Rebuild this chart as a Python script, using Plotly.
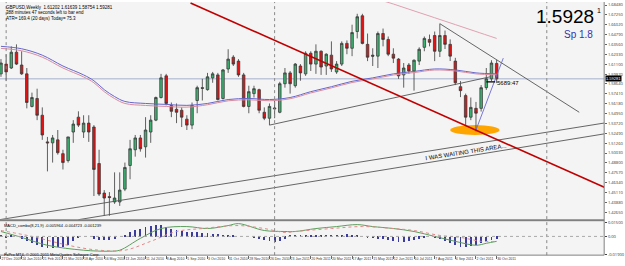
import pandas as pd
import plotly.graph_objects as go

# ---------------- data ----------------
start_week = "2009-12-27"
n_weeks = 97
dates = pd.date_range(start_week, periods=n_weeks, freq="7D")

opens = [1.5990,1.6112,1.6063,1.6260,1.6100,1.5990,1.5584,1.5683,1.5474,1.5142,
         1.5130,1.5167,1.4995,1.4909,1.5265,1.5450,1.5265,1.5376,1.5327,1.4872,
         1.4504,1.4460,1.4393,1.4393,1.4553,1.4848,1.5044,1.5191,1.5081,1.5265,
         1.5413,1.5695,1.5965,1.5597,1.5548,1.5536,1.5425,1.5351,1.5658,1.5818,
         1.5793,1.5940,1.5977,1.5683,1.6051,1.6198,1.6149,1.5977,1.5584,1.5744,
         1.5793,1.5511,1.5437,1.5565,1.5511,1.5867,1.6002,1.5842,1.6088,1.5990,
         1.6247,1.6112,1.6272,1.6088,1.6223,1.6014,1.6112,1.6370,1.6309,1.6518,
         1.6714,1.6358,1.6223,1.6211,1.6493,1.6419,1.6235,1.6174,1.5977,1.6100,
         1.6026,1.6149,1.6321,1.6419,1.6468,1.6272,1.6468,1.6358,1.6149,1.5830,
         1.5719,1.5450,1.5560,1.5560,1.5818,1.5928,1.6120]
highs = [1.6174,1.6235,1.6333,1.6358,1.6272,1.6063,1.5756,1.5805,1.5572,1.5204,
         1.5228,1.5290,1.5044,1.5204,1.5413,1.5523,1.5474,1.5474,1.5351,1.5044,
         1.4541,1.4516,1.4762,1.4762,1.4884,1.5167,1.5228,1.5228,1.5450,1.5474,
         1.5707,1.5990,1.5990,1.5633,1.5621,1.5572,1.5474,1.5633,1.5842,1.5928,
         1.6002,1.6014,1.6002,1.6051,1.6297,1.6223,1.6174,1.6002,1.5842,1.5842,
         1.5805,1.5572,1.5621,1.5658,1.5891,1.6063,1.6026,1.6125,1.6112,1.6272,
         1.6272,1.6358,1.6284,1.6247,1.6395,1.6149,1.6395,1.6407,1.6603,1.6739,
         1.6739,1.6493,1.6309,1.6518,1.6555,1.6456,1.6309,1.6186,1.6125,1.6125,
         1.6170,1.6321,1.6456,1.6480,1.6518,1.6616,1.6530,1.6420,1.6190,1.5900,
         1.5744,1.5695,1.5640,1.5850,1.6063,1.6160,1.6164]
lows = [1.5953,1.5904,1.6051,1.6100,1.5977,1.5560,1.5572,1.5413,1.5167,1.4774,
        1.4884,1.4983,1.4798,1.4884,1.5130,1.5327,1.5191,1.5142,1.4467,1.4467,
        1.4221,1.4221,1.4369,1.4344,1.4528,1.4676,1.4958,1.5020,1.4946,1.5130,
        1.5400,1.5683,1.5597,1.5450,1.5376,1.5327,1.5290,1.5300,1.5499,1.5658,
        1.5781,1.5879,1.5658,1.5670,1.6002,1.6088,1.5953,1.5572,1.5499,1.5695,
        1.5499,1.5413,1.5351,1.5437,1.5499,1.5818,1.5744,1.5818,1.5904,1.5965,
        1.6026,1.5990,1.5977,1.5977,1.6014,1.5990,1.6088,1.6235,1.6211,1.6432,
        1.6358,1.6149,1.6088,1.6063,1.6333,1.6211,1.6125,1.5928,1.5818,1.5990,
        1.5781,1.6100,1.6272,1.6333,1.6149,1.6200,1.6300,1.6150,1.5850,1.5700,
        1.5351,1.5413,1.5272,1.5520,1.5790,1.5900,1.5875]
closes = [1.6125,1.6014,1.6260,1.6112,1.5990,1.5633,1.5695,1.5474,1.5228,1.5130,
          1.5191,1.5007,1.4884,1.5204,1.5364,1.5351,1.5376,1.5265,1.4798,1.4491,
          1.4442,1.4448,1.4442,1.4541,1.4823,1.5056,1.5191,1.5056,1.5290,1.5413,
          1.5695,1.5940,1.5621,1.5523,1.5511,1.5450,1.5351,1.5597,1.5818,1.5810,
          1.5953,1.5990,1.5670,1.6039,1.6174,1.6112,1.5977,1.5584,1.5768,1.5805,
          1.5536,1.5437,1.5584,1.5555,1.5867,1.6002,1.5867,1.6112,1.6002,1.6247,
          1.6112,1.6272,1.6075,1.6235,1.6051,1.6112,1.6370,1.6309,1.6505,1.6702,
          1.6370,1.6198,1.6211,1.6493,1.6419,1.6235,1.6186,1.5965,1.6063,1.6026,
          1.6160,1.6297,1.6432,1.6383,1.6272,1.6468,1.6358,1.6211,1.5879,1.5781,
          1.5450,1.5572,1.5500,1.5818,1.5928,1.6125,1.5928]

# moving averages (week index, price)
ma_fast_idx = [0,4,8,12,16,18,20,22,24,28,32,36,40,44,48,52,56,60,64,68,72,76,80,84,88,92,96]
ma_fast_val = [1.6333,1.6303,1.6223,1.6088,1.5977,1.5904,1.5793,1.5707,1.5646,1.5621,1.5609,
               1.5597,1.5621,1.5670,1.5683,1.5670,1.5695,1.5768,1.5830,1.5897,1.5940,1.5990,
               1.6020,1.6051,1.6039,1.6002,1.5990]
ma_slow_val = [1.6308,1.6278,1.6198,1.6063,1.5952,1.5879,1.5768,1.5682,1.5621,1.5596,1.5584,
               1.5575,1.5605,1.5654,1.5667,1.5655,1.5680,1.5752,1.5815,1.5882,1.5926,1.5976,
               1.6006,1.6038,1.6026,1.5990,1.5978]
ma_long_idx = [70,72,76,80,84,88,92,96]
ma_long_val = [1.7040,1.6947,1.6861,1.6775,1.6690,1.6604,1.6518,1.6432]

# MACD panel (week index, value)
macd_idx = [0,4,9,16,21,23,27,31,36,40,44,46,51,55,57,61,65,69,72,76,80,84,88,92,94,96]
macd_val = [0.005,-0.001,-0.009,-0.014,-0.015,-0.014,-0.002,0.008,0.010,0.008,0.011,0.013,
            0.006,0.005,0.005,0.008,0.010,0.012,0.010,0.008,0.005,0.000,-0.005,-0.009,-0.007,-0.005]
sig_idx = [0,6,13,19,24,29,34,39,46,51,55,57,64,70,76,80,85,89,93,96]
sig_val = [0.006,0.000,-0.009,-0.014,-0.014,-0.005,0.005,0.008,0.011,0.008,0.004,0.005,
           0.008,0.010,0.008,0.006,0.001,-0.001,-0.005,-0.005]
hist_val = [0.001,-0.001,0.001,0.000,-0.002,-0.004,-0.006,-0.008,-0.010,-0.011,
            -0.011,-0.010,-0.010,-0.008,-0.004,-0.001,0.000,0.000,-0.002,-0.003,
            -0.003,-0.003,-0.002,0.000,0.002,0.005,0.007,0.008,0.010,0.011,
            0.012,0.012,0.010,0.008,0.007,0.006,0.005,0.005,0.005,0.004,
            0.004,0.003,0.003,0.002,0.002,0.001,0.000,0.000,0.000,-0.001,
            -0.002,-0.003,-0.004,-0.005,-0.004,-0.002,0.001,0.002,0.002,0.002,
            0.002,0.002,0.002,0.001,0.001,0.002,0.002,0.003,0.002,0.001,
            0.000,-0.001,-0.001,-0.002,-0.002,-0.003,-0.004,-0.005,-0.005,-0.004,
            -0.003,-0.002,-0.001,0.000,-0.001,-0.002,-0.004,-0.006,-0.008,-0.010,
            -0.010,-0.009,-0.008,-0.006,-0.004,-0.003,-0.002]

# drawn objects (date, price)
red_trend = (["2010-09-10", "2012-03-24"], [1.6874, 1.4575])
chan_upper = (["2009-12-25", "2012-03-24"], [1.4172, 1.5377])
chan_lower = (["2010-04-11", "2012-03-24"], [1.4172, 1.5242])
trend_b = (["2010-12-26", "2011-10-21"], [1.5351, 1.5953])
trend_c = (["2011-08-14", "2012-02-19"], [1.6616, 1.5511])
trend_d = (["2011-10-02", "2011-11-08"], [1.5290, 1.6186])
tick_mark = (["2011-10-16", "2011-10-28"], [1.5891, 1.5891])
ellipse_box = (["2011-08-28", "2011-11-03"], [1.5228, 1.5351])
separators = ["2010-01-03", "2011-01-02", "2012-01-06"]
bid_price = 1.5928

price_ticks = [1.68480,1.67250,1.66020,1.64790,1.63560,1.62330,1.61100,1.59870,1.58640,
               1.57410,1.56180,1.54950,1.53720,1.52490,1.51260,1.50030,1.48800,1.47570,
               1.46340,1.45110,1.43880,1.42650]
date_ticks = pd.date_range(start_week, periods=25, freq="28D")
date_labels = ["27 Dec 2009","24 Jan 2010","21 Feb 2010","21 Mar 2010","18 Apr 2010",
               "16 May 2010","13 Jun 2010","11 Jul 2010","8 Aug 2010","5 Sep 2010",
               "3 Oct 2010","31 Oct 2010","28 Nov 2010","26 Dec 2010","23 Jan 2011",
               "20 Feb 2011","20 Mar 2011","17 Apr 2011","15 May 2011","12 Jun 2011",
               "10 Jul 2011","7 Aug 2011","4 Sep 2011","2 Oct 2011","30 Oct 2011"]

# ---------------- figure ----------------
W, H = 625, 266
x_range = ["2009-12-25 16:00", "2012-03-23 19:00"]
main_dom = [1 - 221 / H, 1]
macd_dom = [1 - 257 / H, 1 - 223 / H]
xdom = [0, 612 / W]

fig = go.Figure()

fig.add_trace(go.Scatter(x=dates[ma_long_idx], y=ma_long_val, mode="lines",
                         line=dict(color="#E0A0B0", width=1, shape="spline"),
                         hoverinfo="skip", xaxis="x", yaxis="y"))
fig.add_trace(go.Scatter(x=dates[ma_fast_idx], y=ma_fast_val, mode="lines",
                         line=dict(color="#6666CC", width=1, shape="spline"),
                         hoverinfo="skip", xaxis="x", yaxis="y"))
fig.add_trace(go.Scatter(x=dates[ma_fast_idx], y=ma_slow_val, mode="lines",
                         line=dict(color="#D98CA0", width=1, shape="spline"),
                         hoverinfo="skip", xaxis="x", yaxis="y"))

fig.add_trace(go.Candlestick(
    x=dates, open=opens, high=highs, low=lows, close=closes,
    increasing=dict(fillcolor="#3CB371", line=dict(color="#3A3A3A", width=0.8)),
    decreasing=dict(fillcolor="#E01414", line=dict(color="#3A3A3A", width=0.8)),
    whiskerwidth=0, xaxis="x", yaxis="y", hoverinfo="skip"))

def seg(pair, color, width, dash="solid"):
    fig.add_trace(go.Scatter(x=pair[0], y=pair[1], mode="lines",
                             line=dict(color=color, width=width, dash=dash),
                             hoverinfo="skip", xaxis="x", yaxis="y"))

seg(chan_upper, "#555555", 0.9)
seg(chan_lower, "#555555", 0.9)
seg(trend_b, "#555555", 0.9)
seg(trend_c, "#555555", 0.9)
seg(trend_d, "#6A6AD0", 0.9)
seg(red_trend, "#C00000", 1.6)
seg(tick_mark, "#000000", 1.2)

# MACD panel
fig.add_trace(go.Bar(x=dates, y=hist_val, marker=dict(color="#3B3BA0", line=dict(width=0)),
                     width=1.2 * 86400000, xaxis="x2", yaxis="y2", hoverinfo="skip"))
fig.add_trace(go.Scatter(x=dates[macd_idx], y=macd_val, mode="lines",
                         line=dict(color="#5E9E5E", width=1, shape="spline"),
                         xaxis="x2", yaxis="y2", hoverinfo="skip"))
fig.add_trace(go.Scatter(x=dates[sig_idx], y=sig_val, mode="lines",
                         line=dict(color="#E08888", width=1, dash="dot", shape="spline"),
                         xaxis="x2", yaxis="y2", hoverinfo="skip"))

shapes = []
shapes.append(dict(type="line", xref="x", yref="y", x0=x_range[0], x1=x_range[1],
                   y0=bid_price, y1=bid_price, line=dict(color="#A8B0CC", width=1), layer="below"))
shapes.append(dict(type="circle", xref="x", yref="y", x0=ellipse_box[0][0], x1=ellipse_box[0][1],
                   y0=ellipse_box[1][0], y1=ellipse_box[1][1], fillcolor="#FFA500",
                   line=dict(width=0), layer="below"))
for d in separators:
    shapes.append(dict(type="line", xref="x", yref="paper", x0=d, x1=d, y0=macd_dom[0], y1=1,
                       line=dict(color="#888888", width=1, dash="dot")))
shapes.append(dict(type="line", xref="paper", yref="paper", x0=0, x1=xdom[1],
                   y0=1 - 221.5 / H, y1=1 - 221.5 / H, line=dict(color="#808080", width=2)))
shapes.append(dict(type="line", xref="paper", yref="paper", x0=0, x1=xdom[1],
                   y0=macd_dom[0], y1=macd_dom[0], line=dict(color="#808080", width=1)))
shapes.append(dict(type="line", xref="paper", yref="paper", x0=xdom[1], x1=xdom[1],
                   y0=macd_dom[0], y1=1, line=dict(color="#808080", width=1)))
shapes.append(dict(type="line", xref="x2", yref="y2", x0=x_range[0], x1=x_range[1],
                   y0=0, y1=0, line=dict(color="#AAAAAA", width=1, dash="dot")))

ann = []
def txt(x, y, s, size, color="#000000", xa="left", ya="top", **kw):
    ann.append(dict(x=x / W, y=1 - y / H, xref="paper", yref="paper", text=s, showarrow=False,
                    xanchor=xa, yanchor=ya, font=dict(size=size, color=color, family="Arial"), **kw))

txt(4, 1, "GBPUSD,Weekly  1.61202 1.61639 1.58754 1.59281", 4.5)
txt(4, 6.5, "388 minutes 47 seconds left to bar end", 4.5)
txt(4, 12, "ATR= 169.4 (20 days) Today= 75.3", 4.5)
txt(604, 2, "1.5928", 19, xa="right")
txt(603, 3, "1", 7, xa="left")
txt(603, 25, "Sp 1.8", 10, color="#3333B0", xa="right")
txt(2, 222.5, "MACD_combo(8,21,9) -0.005964 -0.004723 -0.001239", 4)
txt(2, 251.5, "FxPro MT4, © 2001-2011 MetaQuotes Software Corp.", 4)
txt(613, 77.5, "1.59281", 4, color="#FFFFFF", ya="middle", bgcolor="#000000", borderpad=0)
ann.append(dict(x="2011-09-18", y=1.5019, xref="x", yref="y", text="I WAS WAITING THIS AREA...",
                showarrow=False, textangle=-9, font=dict(size=6, color="#000000", family="Arial")))
ann.append(dict(x="2011-10-28", y=1.5880, xref="x", yref="y", text="5689:47", xanchor="left",
                showarrow=False, font=dict(size=6, color="#000000", family="Arial")))

fig.update_layout(
    width=W, height=H, margin=dict(l=0, r=0, t=0, b=0),
    paper_bgcolor="#FFFFFF", plot_bgcolor="#F4F4F4", showlegend=False, bargap=0,
    xaxis=dict(domain=xdom, range=x_range, type="date", showticklabels=False, showgrid=False,
               zeroline=False, anchor="y", rangeslider=dict(visible=False), fixedrange=True),
    yaxis=dict(domain=main_dom, range=[1.4172, 1.6886], side="right", tickvals=price_ticks,
               ticktext=[f"{v:.5f}" for v in price_ticks], tickfont=dict(size=4, color="#333333"),
               ticks="outside", ticklen=2, tickcolor="#666666", showgrid=False, zeroline=False,
               anchor="x", showline=False),
    xaxis2=dict(domain=xdom, range=x_range, type="date", matches="x", anchor="y2",
                tickvals=list(date_ticks), ticktext=date_labels, tickangle=0,
                tickfont=dict(size=3.5, color="#333333", family="Arial"),
                ticks="outside", ticklen=3, tickcolor="#666666", ticklabelposition="outside right",
                showgrid=False, zeroline=False),
    yaxis2=dict(domain=macd_dom, range=[-0.019, 0.015], side="right", anchor="x2",
                tickvals=[0.0145, 0.0, -0.0185], ticktext=["0.01500", "0.00", "-0.01900"],
                tickfont=dict(size=4, color="#333333"), ticks="outside", ticklen=2,
                showgrid=False, zeroline=False),
    shapes=shapes, annotations=ann,
)

fig.write_html("out.html")
